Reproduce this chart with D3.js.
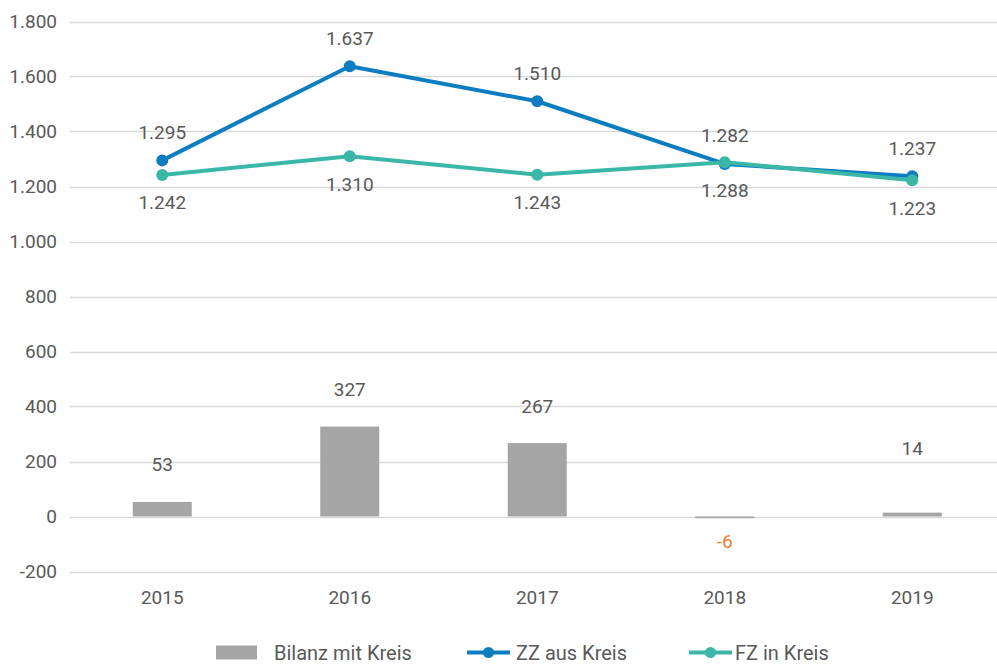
<!DOCTYPE html>
<html><head><meta charset="utf-8">
<script src="https://cdn.jsdelivr.net/npm/d3@7/dist/d3.min.js"></script>
<style>
body{margin:0;background:#fff;}
text{font-family:Roboto,"Noto Sans",sans-serif;}
</style></head>
<body><svg id="c" width="997" height="666"></svg>
<script>
const years = ["2015","2016","2017","2018","2019"];
const bilanz = [53, 327, 267, -6, 14];
const zzAus = [1295, 1637, 1510, 1282, 1237];
const fzIn = [1242, 1310, 1243, 1288, 1223];
const yTicks = [-200, 0, 200, 400, 600, 800, 1000, 1200, 1400, 1600, 1800];
const seriesNames = ["Bilanz mit Kreis", "ZZ aus Kreis", "FZ in Kreis"];
// extra label lift for the bar labels (layout only)
const barLabelLift = [37, 37, 37, 0, 64];

const colors = {bar:"#A5A5A5", zz:"#0B7DC0", fz:"#3BB7A8", text:"#595959", neg:"#ED7D31", grid:"#D9D9D9"};
const fmt = v => d3.format(",")(v).replace(/,/g, ".").replace("\u2212", "-");

const svg = d3.select("#c");
const x = d3.scaleBand().domain(years).range([68.5, 1006]).paddingInner(0).paddingOuter(0);
const y = d3.scaleLinear().domain([-200, 1800]).range([571.5, 21.5]);

// gridlines
svg.append("g").selectAll("line").data(yTicks).join("line")
  .attr("x1", 70).attr("x2", 997)
  .attr("y1", d => Math.round(y(d)) + 0.5).attr("y2", d => Math.round(y(d)) + 0.5)
  .attr("stroke", colors.grid).attr("stroke-width", 1.3);

// y axis labels
const yAxis = d3.axisLeft(y).tickValues(yTicks).tickSize(0).tickPadding(0).tickFormat(fmt);
const ya = svg.append("g").attr("transform", "translate(57,0)").call(yAxis);
ya.select(".domain").remove();
ya.selectAll("text").attr("font-size", 19).attr("fill", colors.text).attr("font-family", "Roboto");

// x axis labels
const xAxis = d3.axisBottom(x).tickSize(0).tickPadding(0);
const xa = svg.append("g").attr("transform", "translate(0,590)").call(xAxis);
xa.select(".domain").remove();
xa.selectAll("text").attr("font-size", 19).attr("fill", colors.text).attr("font-family", "Roboto");

// bars
const bw = 59;
const cx = d => x(d) + x.bandwidth() / 2;
svg.append("g").selectAll("rect").data(years).join("rect")
  .attr("x", d => cx(d) - bw / 2)
  .attr("width", bw)
  .attr("y", (d, i) => Math.min(y(bilanz[i]), y(0)))
  .attr("height", (d, i) => Math.max(1.5, Math.abs(y(bilanz[i]) - y(0))))
  .attr("fill", colors.bar);

// bar labels
svg.append("g").selectAll("text").data(years).join("text")
  .attr("x", d => cx(d))
  .attr("y", (d, i) => bilanz[i] >= 0 ? y(bilanz[i]) - barLabelLift[i] : y(0) + 25)
  .attr("text-anchor", "middle").attr("dominant-baseline", "central")
  .attr("font-size", 19)
  .attr("fill", (d, i) => bilanz[i] < 0 ? colors.neg : colors.text)
  .text((d, i) => fmt(bilanz[i]));

// lines
const line = d3.line().x((d, i) => cx(years[i])).y(d => y(d));
function drawSeries(vals, col) {
  svg.append("path").datum(vals).attr("d", line)
    .attr("fill", "none").attr("stroke", col).attr("stroke-width", 4).attr("stroke-linejoin", "round");
  svg.append("g").selectAll("circle").data(vals).join("circle")
    .attr("cx", (d, i) => cx(years[i])).attr("cy", d => y(d)).attr("r", 6).attr("fill", col);
}
drawSeries(zzAus, colors.zz);
drawSeries(fzIn, colors.fz);

// line labels
svg.append("g").selectAll("text").data(zzAus).join("text")
  .attr("x", (d, i) => cx(years[i])).attr("y", d => y(d) - 28)
  .attr("text-anchor", "middle").attr("dominant-baseline", "central")
  .attr("font-size", 19).attr("fill", colors.text).text(d => fmt(d));
svg.append("g").selectAll("text").data(fzIn).join("text")
  .attr("x", (d, i) => cx(years[i])).attr("y", d => y(d) + 28)
  .attr("text-anchor", "middle").attr("dominant-baseline", "central")
  .attr("font-size", 19).attr("fill", colors.text).text(d => fmt(d));

// legend
const ly = 652.5;
const lg = svg.append("g");
lg.append("rect").attr("x", 216).attr("y", ly - 7).attr("width", 41).attr("height", 14).attr("fill", colors.bar);
lg.append("text").attr("x", 274).attr("y", ly).attr("dominant-baseline", "central")
  .attr("font-size", 20).attr("fill", colors.text).text(seriesNames[0]);
[[467, colors.zz, seriesNames[1], 516], [689, colors.fz, seriesNames[2], 735]].forEach(([lx, col, name, tx]) => {
  lg.append("line").attr("x1", lx).attr("x2", lx + 43).attr("y1", ly).attr("y2", ly)
    .attr("stroke", col).attr("stroke-width", 4);
  lg.append("circle").attr("cx", lx + 21.5).attr("cy", ly).attr("r", 5.5).attr("fill", col);
  lg.append("text").attr("x", tx).attr("y", ly).attr("dominant-baseline", "central")
    .attr("font-size", 20).attr("fill", colors.text).text(name);
});
</script></body></html>
